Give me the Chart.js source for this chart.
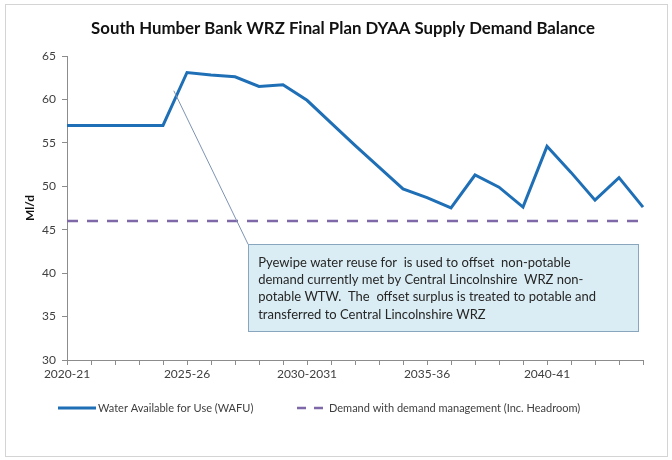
<!DOCTYPE html>
<html>
<head>
<meta charset="utf-8">
<script src="https://cdn.jsdelivr.net/npm/chart.js@4.4.1/dist/chart.umd.min.js"></script>
<style>
  html, body { margin: 0; padding: 0; background: #ffffff; }
  #wrap { width: 672px; height: 460px; position: relative; }
</style>
</head>
<body>
<div id="wrap"><canvas id="c" width="672" height="460"></canvas></div>
<script>
// Financial years on the category axis (only every fifth year is labelled)
const years = ['2020-21', '', '', '', '', '2025-26', '', '', '', '', '2030-2031', '', '', '', '',
               '2035-36', '', '', '', '', '2040-41', '', '', '', ''];

// Water Available for Use (Ml/d)
const wafu = [57.0, 57.0, 57.0, 57.0, 57.0, 63.1, 62.8, 62.6, 61.5, 61.7, 59.9, 57.3, 54.7,
              52.2, 49.7, 48.7, 47.5, 51.3, 49.9, 47.6, 54.6, 51.6, 48.4, 51.0, 47.6];

// Demand with demand management, including headroom (Ml/d)
const demand = [46, 46, 46, 46, 46, 46, 46, 46, 46, 46, 46, 46, 46,
                46, 46, 46, 46, 46, 46, 46, 46, 46, 46, 46, 46];

const yRange = [30, 65];
const yStep = 5;

const titleText = 'South Humber Bank WRZ Final Plan DYAA Supply Demand Balance';
const seriesNames = ['Water Available for Use (WAFU)', 'Demand with demand management (Inc. Headroom)'];

// Callout text; anchor and box corners are given in axis units (category index, Ml/d)
const noteLines = [
  'Pyewipe water reuse for  is used to offset  non-potable',
  'demand currently met by Central Lincolnshire  WRZ non-',
  'potable WTW.  The  offset surplus is treated to potable and',
  'transferred to Central Lincolnshire WRZ'
];
const noteAnchor = [4.45, 61.0];
const noteBox = [7.55, 43.3, 23.8, 33.3];

const FONT = 'Lato, "Liberation Sans", sans-serif';
const BLUE = '#1f6fb6';
const PURPLE = '#7e68a8';

const decorations = {
  id: 'decorations',
  beforeDraw(chart) {
    const ctx = chart.ctx;
    ctx.save();
    // outer frame
    ctx.strokeStyle = '#d4d4d4';
    ctx.lineWidth = 1;
    ctx.strokeRect(5.5, 4.5, 662, 452);
    // title
    ctx.fillStyle = '#111111';
    ctx.font = 'bold 16.8px ' + FONT;
    ctx.textAlign = 'center';
    ctx.textBaseline = 'middle';
    ctx.fillText(titleText, 343, 29);
    ctx.restore();
  },
  afterDatasetsDraw(chart) {
    const ctx = chart.ctx;
    const xs = chart.scales.x, ys = chart.scales.y;
    ctx.save();
    // callout box
    const bx0 = xs.getPixelForValue(noteBox[0]);
    const by0 = ys.getPixelForValue(noteBox[1]);
    const bx1 = xs.getPixelForValue(noteBox[2]);
    const by1 = ys.getPixelForValue(noteBox[3]);
    const ax = xs.getPixelForValue(noteAnchor[0]);
    const ay = ys.getPixelForValue(noteAnchor[1]);
    ctx.strokeStyle = '#7d93b3';
    ctx.lineWidth = 1;
    ctx.beginPath();
    ctx.moveTo(ax, ay);
    ctx.lineTo(bx0, by0);
    ctx.stroke();
    ctx.fillStyle = '#dbedf4';
    ctx.fillRect(bx0, by0, bx1 - bx0, by1 - by0);
    ctx.strokeStyle = '#8aa6bf';
    ctx.strokeRect(Math.round(bx0) + 0.5, Math.round(by0) + 0.5, Math.round(bx1 - bx0), Math.round(by1 - by0));
    ctx.fillStyle = '#262626';
    ctx.font = '13px ' + FONT;
    ctx.textAlign = 'left';
    ctx.textBaseline = 'middle';
    noteLines.forEach((t, i) => ctx.fillText(t, bx0 + 10, by0 + 18 + i * 17.3));

    // legend
    const ly = 408;
    ctx.font = '11px ' + FONT;
    ctx.fillStyle = '#404040';
    const ds = chart.data.datasets;
    ctx.strokeStyle = ds[0].borderColor;
    ctx.lineWidth = 3;
    ctx.beginPath();
    ctx.moveTo(58, ly); ctx.lineTo(96, ly);
    ctx.stroke();
    ctx.fillText(ds[0].label, 98, ly);
    ctx.strokeStyle = ds[1].borderColor;
    ctx.lineWidth = 2.5;
    ctx.setLineDash([9, 8]);
    ctx.beginPath();
    ctx.moveTo(297, ly); ctx.lineTo(323, ly);
    ctx.stroke();
    ctx.setLineDash([]);
    ctx.fillText(ds[1].label, 329, ly);
    ctx.restore();
  }
};

new Chart(document.getElementById('c'), {
  type: 'line',
  data: {
    labels: years,
    datasets: [
      {
        label: seriesNames[0],
        data: wafu,
        borderColor: BLUE,
        borderWidth: 3,
        pointRadius: 0,
        tension: 0,
        fill: false
      },
      {
        label: seriesNames[1],
        data: demand,
        borderColor: PURPLE,
        borderWidth: 2.5,
        borderDash: [11, 9],
        pointRadius: 0,
        tension: 0,
        fill: false
      }
    ]
  },
  options: {
    responsive: false,
    devicePixelRatio: 1,
    animation: false,
    layout: { padding: { left: 10, right: 29, top: 56, bottom: 70 } },
    plugins: {
      legend: { display: false },
      title: { display: false },
      tooltip: { enabled: false }
    },
    scales: {
      x: {
        type: 'category',
        offset: false,
        afterFit(s) { s.height = 30; },
        grid: { display: true, drawOnChartArea: false, drawTicks: true, tickLength: 5, color: '#8c8c8c' },
        border: { display: true, color: '#8c8c8c', width: 1 },
        ticks: {
          autoSkip: false, maxRotation: 0, minRotation: 0, padding: 2,
          color: '#404040', font: { family: FONT, size: 12 }
        }
      },
      y: {
        min: yRange[0], max: yRange[1],
        afterFit(s) { s.width = 57; },
        grid: { display: true, drawOnChartArea: false, drawTicks: true, tickLength: 5, color: '#8c8c8c' },
        border: { display: true, color: '#8c8c8c', width: 1 },
        ticks: {
          stepSize: yStep, padding: 6,
          color: '#404040', font: { family: FONT, size: 12 }
        },
        title: {
          display: true, text: 'Ml/d', color: '#111111',
          font: { family: FONT, size: 12, weight: 'bold' },
          padding: { top: 13, bottom: 0 }
        }
      }
    }
  },
  plugins: [decorations]
});
</script>
</body>
</html>
